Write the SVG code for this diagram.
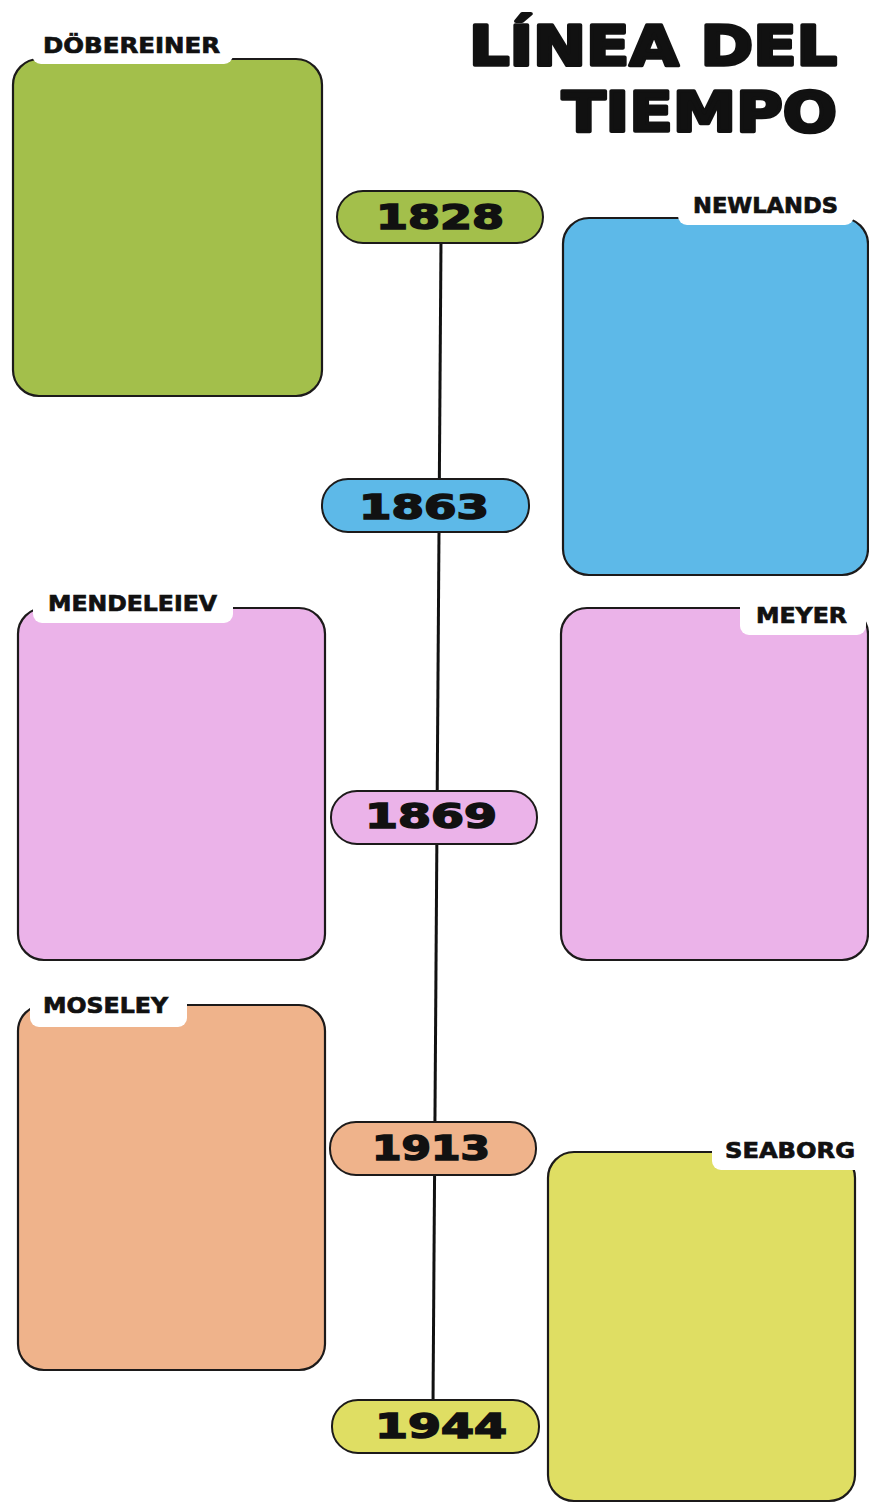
<svg xmlns="http://www.w3.org/2000/svg" width="869" height="1503" viewBox="0 0 869 1503">
<style>
.card{stroke:#1c1a1a;stroke-width:2.2}
.tab{fill:#ffffff}
.lbl{font-family:"DejaVu Sans",sans-serif;font-weight:bold;font-size:22px;fill:#111;stroke:#111;stroke-width:0.7}
.pill{stroke:#1c1a1a;stroke-width:2}
.yr{font-family:"DejaVu Sans",sans-serif;font-weight:bold;font-size:33px;fill:#111;stroke:#111;stroke-width:1.6;text-anchor:middle}
.title{font-family:"DejaVu Sans",sans-serif;font-weight:bold;font-size:56px;fill:#111;stroke:#111;stroke-width:3.5;stroke-linejoin:round;text-anchor:end}
.green{fill:#a3bf4b}.blue{fill:#5db9e8}.pink{fill:#ebb3e9}.orange{fill:#efb38b}.yellow{fill:#dfde63}
</style>
<rect width="869" height="1503" fill="#ffffff"/>
<g id="title">
<text class="title" x="837" y="65" textLength="368" lengthAdjust="spacingAndGlyphs">LÍNEA DEL</text>
<text class="title" x="837" y="131" textLength="275" lengthAdjust="spacingAndGlyphs">TIEMPO</text>
</g>
<g id="connectors">
<line x1="441" y1="240" x2="433" y2="1404" stroke="#111" stroke-width="3"/>
</g>
<g id="dobereiner">
<rect class="card green" x="13" y="59" width="309" height="337" rx="26"/>
<rect class="tab" x="32" y="24" width="201" height="40" rx="9"/>
<text class="lbl" x="43" y="53" textLength="177" lengthAdjust="spacingAndGlyphs">DÖBEREINER</text>
</g>
<g id="newlands">
<rect class="card blue" x="563" y="218" width="305" height="357" rx="26"/>
<rect class="tab" x="678" y="188" width="176" height="37" rx="9"/>
<text class="lbl" x="693" y="213" textLength="145" lengthAdjust="spacingAndGlyphs">NEWLANDS</text>
</g>
<g id="mendeleiev">
<rect class="card pink" x="18" y="608" width="307" height="352" rx="26"/>
<rect class="tab" x="33" y="585" width="200" height="38" rx="9"/>
<text class="lbl" x="48" y="611" textLength="169" lengthAdjust="spacingAndGlyphs">MENDELEIEV</text>
</g>
<g id="meyer">
<rect class="card pink" x="561" y="608" width="307" height="352" rx="26"/>
<rect class="tab" x="740" y="597" width="126" height="38" rx="9"/>
<text class="lbl" x="756" y="623" textLength="91" lengthAdjust="spacingAndGlyphs">MEYER</text>
</g>
<g id="moseley">
<rect class="card orange" x="18" y="1005" width="307" height="365" rx="26"/>
<rect class="tab" x="30" y="989" width="157" height="38" rx="9"/>
<text class="lbl" x="43" y="1013" textLength="125" lengthAdjust="spacingAndGlyphs">MOSELEY</text>
</g>
<g id="seaborg">
<rect class="card yellow" x="548" y="1152" width="307" height="349" rx="26"/>
<rect class="tab" x="712" y="1132" width="152" height="38" rx="9"/>
<text class="lbl" x="725" y="1158" textLength="130" lengthAdjust="spacingAndGlyphs">SEABORG</text>
</g>
<g id="y1828">
<rect class="pill green" x="337" y="191" width="206" height="52" rx="26"/>
<text class="yr" x="440" y="229" textLength="128" lengthAdjust="spacingAndGlyphs">1828</text>
</g>
<g id="y1863">
<rect class="pill blue" x="322" y="479" width="207" height="53" rx="26"/>
<text class="yr" x="424" y="519" textLength="130" lengthAdjust="spacingAndGlyphs">1863</text>
</g>
<g id="y1869">
<rect class="pill pink" x="331" y="791" width="206" height="53" rx="26"/>
<text class="yr" x="431" y="828" textLength="132" lengthAdjust="spacingAndGlyphs">1869</text>
</g>
<g id="y1913">
<rect class="pill orange" x="330" y="1122" width="206" height="53" rx="26"/>
<text class="yr" x="431" y="1160" textLength="118" lengthAdjust="spacingAndGlyphs">1913</text>
</g>
<g id="y1944">
<rect class="pill yellow" x="332" y="1400" width="207" height="53" rx="26"/>
<text class="yr" x="441" y="1438" textLength="132" lengthAdjust="spacingAndGlyphs">1944</text>
</g>
</svg>
